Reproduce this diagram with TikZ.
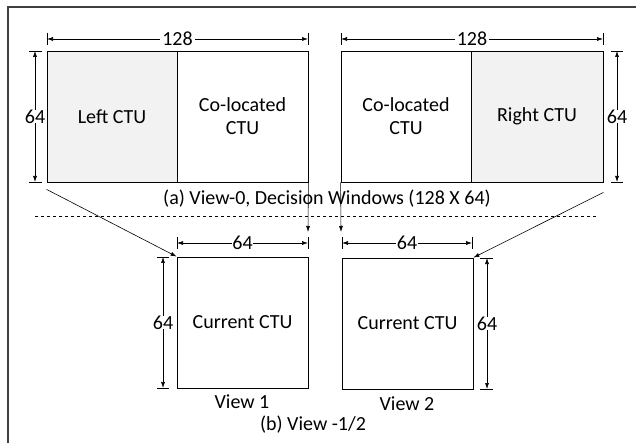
\documentclass[tikz,border=0pt]{standalone}
\usepackage{fontspec}
\setmainfont{Carlito}
\usetikzlibrary{arrows.meta,calc}

\tikzset{
  ctu/.style={draw, line width=0.8pt, minimum width=130pt, minimum height=131pt, inner sep=0pt, align=center},
  shaded/.style={ctu, fill=gray!10},
  dim/.style={line width=0.6pt, {Latex[length=6pt,width=4pt]}-{Latex[length=6pt,width=4pt]}},
  tick/.style={line width=0.6pt},
  lbl/.style={fill=white, inner sep=2pt},
  feed/.style={line width=0.6pt, -{Latex[length=6pt,width=4pt]}}
}

\begin{document}
\begin{tikzpicture}[x=1pt, y=-1pt, font=\fontsize{20}{23}\selectfont]
  \useasboundingbox (0,0) rectangle (636,443);
  \draw[line width=1.6pt, black!75] (8,443) -- (8,7) -- (636,7);

  % view 0 windows
  \node[shaded] (lctu) at (112,116.5) {Left CTU};
  \node[ctu, minimum width=131pt] (colA) at (242.5,116.5) {Co-located\\CTU};
  \node[ctu] (colB) at (406,116.5) {Co-located\\CTU};
  \node[shaded, minimum width=132pt] (rctu) at (537,116.5) {Right CTU};

  % view 1/2 blocks
  \node[ctu, minimum width=131pt] (cur1) at (242.5,322.5) {Current CTU};
  \node[ctu, minimum width=131pt] (cur2) at (407.5,323.5) {Current CTU};

  % captions
  \node (capA) at (327,199) {(a) View-0, Decision Windows (128 X 64)};
  \node (v1) at (242,402) {View 1};
  \node (v2) at (407,404) {View 2};
  \node (capB) at (313,425) {(b) View -1/2};

  \draw[dashed, line width=0.6pt] (35,216) -- (597,216);

  % dimensions, top windows
  \coordinate (wa1) at (47,39);  \coordinate (wa2) at (308,39);
  \coordinate (wb1) at (341,39); \coordinate (wb2) at (603,39);
  \draw[tick] (47,33) -- (47,45) (308,33) -- (308,45);
  \draw[tick] (341,33) -- (341,45) (603,33) -- (603,45);
  \draw[dim] (wa1) -- node[lbl] {128} (wa2);
  \draw[dim] (wb1) -- node[lbl] {128} (wb2);
  \coordinate (ha1) at (35,51);  \coordinate (ha2) at (35,182);
  \coordinate (hb1) at (617,51); \coordinate (hb2) at (617,182);
  \draw[tick] (29,51) -- (42,51) (29,182) -- (42,182);
  \draw[tick] (611,51) -- (623,51) (611,182) -- (623,182);
  \draw[dim] (ha1) -- node[lbl, inner sep=0pt] {64} (ha2);
  \draw[dim] (hb1) -- node[lbl, inner sep=0pt] {64} (hb2);

  % dimensions, current blocks
  \coordinate (c1a) at (177,243); \coordinate (c1b) at (308,243);
  \coordinate (c2a) at (342,243); \coordinate (c2b) at (472,243);
  \draw[tick] (177,237) -- (177,249) (308,237) -- (308,249);
  \draw[tick] (342,237) -- (342,249) (472,237) -- (472,249);
  \draw[dim] (c1a) -- node[lbl, inner sep=0pt] {64} (c1b);
  \draw[dim] (c2a) -- node[lbl, inner sep=1pt] {64} (c2b);
  \coordinate (d1a) at (163,257); \coordinate (d1b) at (163,388);
  \coordinate (d2a) at (487,258); \coordinate (d2b) at (487,389);
  \draw[tick] (157,257) -- (169,257) (157,388) -- (169,388);
  \draw[tick] (480,258) -- (493,258) (480,389) -- (493,389);
  \draw[dim] (d1a) -- node[lbl, inner sep=0pt] {64} (d1b);
  \draw[dim] (d2a) -- node[lbl, inner sep=0pt] {64} (d2b);

  % windows to current blocks
  \coordinate (dn1) at (308,232);
  \coordinate (dn2) at (341,232);
  \draw[feed] (colA.south east) -- (dn1);
  \draw[feed] (colB.south west) -- (dn2);
  \draw[feed] ([yshift=-7pt]lctu.south west) -- (cur1.north west);
  \draw[feed] ([yshift=-10pt]rctu.south east) -- (cur2.north east);
\end{tikzpicture}
\end{document}
